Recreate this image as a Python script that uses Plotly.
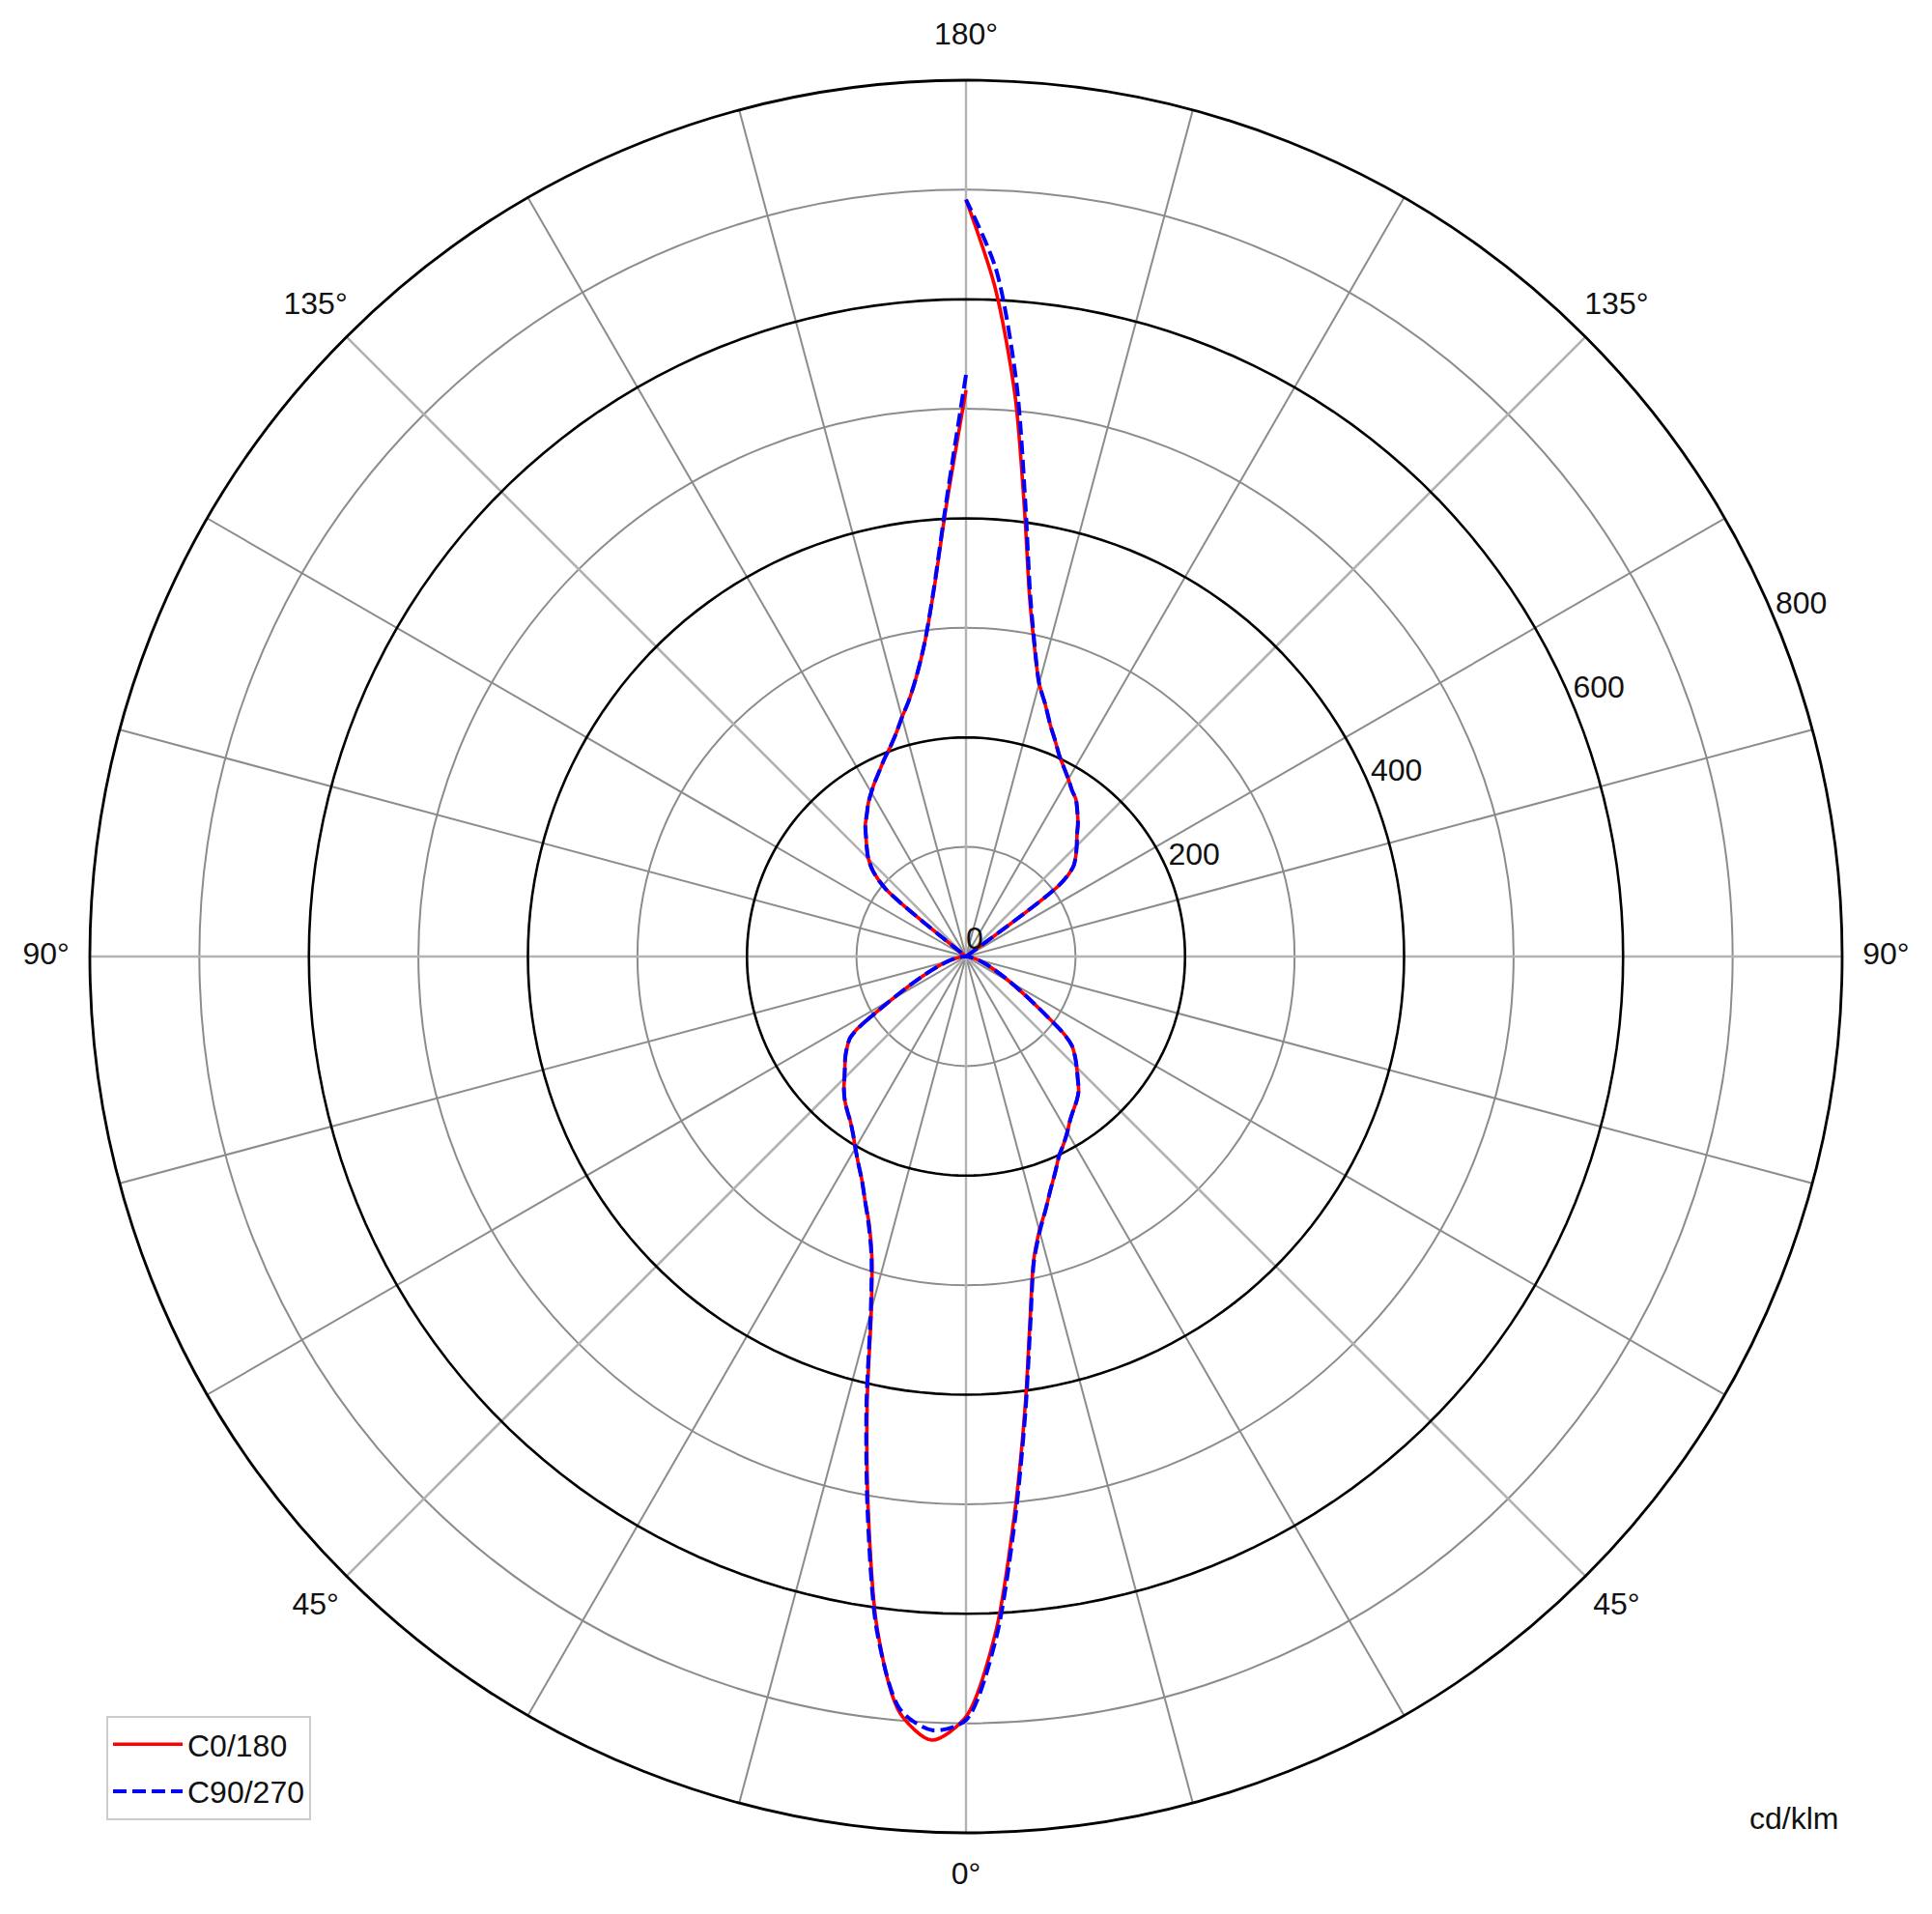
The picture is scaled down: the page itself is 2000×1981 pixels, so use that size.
import plotly.graph_objects as go

# ---------------- data (cd/klm) ----------------
# vertical angle gamma (deg), shared by all half-planes
GAMMA = [0, 2.5, 5, 7.5, 10, 12.5, 15, 17.5, 20, 22.5, 25, 27.5, 30, 32.5, 35, 37.5,
         40, 42.5, 45, 47.5, 50, 52.5, 55, 57.5, 60,
         65, 70, 75, 80, 85, 90, 95, 100, 105, 110, 115, 120, 125,
         127.5, 130, 132.5, 135, 137.5, 140, 142.5, 145, 147.5, 150, 152.5, 155,
         157.5, 160, 162.5, 165, 167.5, 170, 172.5, 175, 177.5, 180]

# C0 half-plane (right side, red)
C0 = [694, 618, 510, 414, 337, 285, 259, 242, 226, 213, 201, 193, 185, 177, 171, 166,
      160, 151, 143, 135, 126, 105, 0, 0, 0,
      0, 0, 0, 0, 0, 0, 0, 0, 0, 0, 0, 0, 0,
      108, 128, 136, 143, 150, 159, 167, 175, 180, 187, 194, 202,
      213, 225, 241, 258, 289, 334, 410, 514, 611, 691]

# C180 half-plane (left side, red)
C180 = [694, 716, 693, 620, 514, 417, 334, 286, 259, 241, 225, 213, 202, 192, 184, 178,
        172, 165, 157, 150, 144, 137, 129, 105, 0,
        0, 0, 0, 0, 0, 0, 0, 0, 0, 0, 0, 0, 0,
        0, 95, 115, 126, 134, 142, 151, 158, 166, 173, 180, 187,
        195, 203, 213, 226, 240, 260, 289, 336, 412, 517]

# C90 half-plane (right side, blue)
C90 = [697, 624, 515, 417, 339, 286, 260, 242, 226, 213, 201, 193, 185, 177, 171, 166,
       160, 151, 143, 135, 126, 105, 0, 0, 0,
       0, 0, 0, 0, 0, 0, 0, 0, 0, 0, 0, 0, 0,
       108, 128, 136, 143, 150, 159, 167, 175, 180, 187, 194, 202,
       213, 225, 241, 258, 290, 337, 416, 527, 628, 691]

# C270 half-plane (left side, blue)
C270 = [697, 707, 690, 622, 517, 420, 336, 287, 260, 241, 225, 213, 202, 192, 184, 178,
        172, 165, 157, 150, 144, 137, 129, 105, 0,
        0, 0, 0, 0, 0, 0, 0, 0, 0, 0, 0, 0, 0,
        0, 95, 115, 126, 134, 142, 151, 158, 166, 173, 180, 187,
        195, 203, 213, 226, 240, 260, 289, 337, 415, 531]

SERIES_NAMES = ["C0/180", "C90/270"]
RADIAL_TICKS = [0, 200, 400, 600, 800]
RADIAL_LABELS = ["0", "200", "400", "600", "800"]
ANGLE_LABEL_THETA = [0, 45, 90, 135, 180, 225, 270, 315]
ANGLE_LABELS = ["0°", "45°", "90°", "135°", "180°", "135°", "90°", "45°"]
MINOR_RINGS = [100, 300, 500, 700]
MAJOR_RINGS = [200, 400, 600]
R_MAX = 800
ANGLE_STEP = 15
MAJOR_ANGLE_STEP = 45
UNIT_LABEL = "cd/klm"

# ---------------- styles ----------------
GREY = "#8c8c8c"
LIGHT_GREY = "#b3b3b3"
FONT = "Liberation Sans, Arial, Helvetica, sans-serif"
TEXT_COLOR = "#111111"
LABEL_R = 840          # radius (data units) where the angle labels sit
RADIAL_LABEL_THETA = 112.5

# page body has an 8px margin: size/position the figure inside the 2000x1981 window
OFF = 8
W, H = 2000 - 2 * OFF, 1981 - 2 * OFF
CX, CY = 1000, 990      # centre of the polar plot (window px)
RAD = 907               # radius of the 800 ring (window px)
RAD2 = 978              # radius of the (invisible) label polar


def px_x(X):
    return (X - OFF) / W


def px_y(Y):
    return 1 - (Y - OFF) / H


def build(right, left):
    """Left half-plane drawn with negative theta, right half-plane with positive theta."""
    theta = [-g for g in GAMMA[::-1]] + GAMMA[1:]
    r = left[::-1] + right[1:]
    out = []
    for i, v in enumerate(r):
        prev_zero = i > 0 and r[i - 1] == 0
        next_zero = i < len(r) - 1 and r[i + 1] == 0
        out.append(None if (v == 0 and prev_zero and next_zero) else v)
    return theta, out


fig = go.Figure()

# lighter major spokes every 45 degrees
sp_t, sp_r = [], []
for a in range(0, 360, MAJOR_ANGLE_STEP):
    sp_t += [a, a, None]
    sp_r += [0, R_MAX, None]
fig.add_trace(go.Scatterpolar(theta=sp_t, r=sp_r, mode="lines",
                              line=dict(color=LIGHT_GREY, width=2.4),
                              showlegend=False, hoverinfo="skip"))

# black rings at 200/400/600
ring_t, ring_r = [], []
for rr in MAJOR_RINGS:
    ring_t += list(range(0, 361, 2)) + [None]
    ring_r += [rr] * 181 + [None]
fig.add_trace(go.Scatterpolar(theta=ring_t, r=ring_r, mode="lines",
                              line=dict(color="black", width=2.6),
                              showlegend=False, hoverinfo="skip"))

# data curves
t_red, r_red = build(C0, C180)
t_blue, r_blue = build(C90, C270)
fig.add_trace(go.Scatterpolar(theta=t_red, r=r_red, mode="lines", name=SERIES_NAMES[0],
                              legendgroup="a",
                              line=dict(color="#ff0000", width=3.6, shape="spline", smoothing=0.8)))
fig.add_trace(go.Scatterpolar(theta=t_blue, r=r_blue, mode="lines", name=SERIES_NAMES[1],
                              legendgroup="b",
                              line=dict(color="#0000ff", width=4.0, dash="14px,6px",
                                        shape="spline", smoothing=0.8)))

# radial tick labels placed along 22.5 deg above horizontal
fig.add_trace(go.Scatterpolar(theta=[RADIAL_LABEL_THETA] * len(RADIAL_TICKS), r=RADIAL_TICKS,
                              mode="text", text=RADIAL_LABELS, textposition="top right",
                              marker=dict(size=1),
                              textfont=dict(size=32, color=TEXT_COLOR, family=FONT),
                              cliponaxis=False, showlegend=False, hoverinfo="skip"))

# angle labels just outside the outer ring (drawn on an overlaid, invisible polar
# that shares centre and scale with the main one but reaches further out)
fig.add_trace(go.Scatterpolar(theta=ANGLE_LABEL_THETA, r=[LABEL_R] * len(ANGLE_LABEL_THETA),
                              mode="text", text=ANGLE_LABELS, textposition="middle center",
                              subplot="polar2",
                              textfont=dict(size=32, color=TEXT_COLOR, family=FONT),
                              cliponaxis=False, showlegend=False, hoverinfo="skip"))

tickvals = list(range(0, 360, ANGLE_STEP))

fig.update_layout(
    width=W, height=H,
    margin=dict(l=0, r=0, t=0, b=0),
    paper_bgcolor="white",
    font=dict(family=FONT, size=32, color=TEXT_COLOR),
    polar=dict(
        domain=dict(x=[px_x(CX - RAD), px_x(CX + RAD)], y=[px_y(CY + RAD), px_y(CY - RAD)]),
        bgcolor="white",
        radialaxis=dict(range=[0, R_MAX], tickvals=MINOR_RINGS, showticklabels=False,
                        ticks="", showline=False, gridcolor=GREY, gridwidth=1.6,
                        angle=22.5),
        angularaxis=dict(rotation=270, direction="counterclockwise",
                         tickmode="array", tickvals=tickvals, showticklabels=False,
                         ticks="", showline=True, linecolor="black", linewidth=2.8,
                         gridcolor=GREY, gridwidth=1.6),
    ),
    polar2=dict(
        domain=dict(x=[px_x(CX - RAD2), px_x(CX + RAD2)], y=[px_y(CY + RAD2), px_y(CY - RAD2)]),
        bgcolor="rgba(0,0,0,0)",
        radialaxis=dict(range=[0, R_MAX * RAD2 / RAD], visible=False, showgrid=False,
                        showline=False, showticklabels=False, ticks=""),
        angularaxis=dict(rotation=270, direction="counterclockwise", showgrid=False,
                         showline=False, showticklabels=False, ticks=""),
    ),
    showlegend=True,
    legend=dict(x=px_x(110), y=px_y(1776), xanchor="left", yanchor="top",
                bordercolor="#cccccc", borderwidth=2, bgcolor="white",
                itemwidth=72, tracegroupgap=4,
                font=dict(size=32, color=TEXT_COLOR, family=FONT)),
    annotations=[dict(text=UNIT_LABEL, x=px_x(1905), y=px_y(1882), xref="paper", yref="paper",
                      xanchor="right", yanchor="middle", showarrow=False,
                      font=dict(size=32, color=TEXT_COLOR, family=FONT))],
)

fig.write_html("out.html")
